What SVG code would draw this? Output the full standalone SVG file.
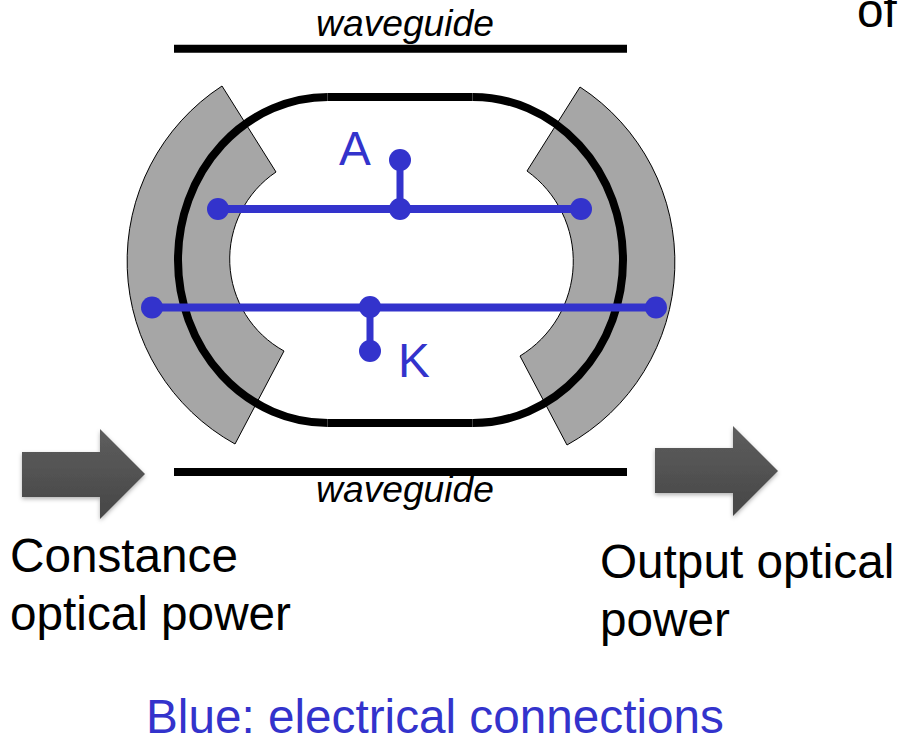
<svg xmlns="http://www.w3.org/2000/svg" width="899" height="739" viewBox="0 0 899 739">
<style>
text{font-family:"Liberation Sans",Arial,sans-serif}
.lbl{font-size:47.7px;fill:#000}
.wg{font-size:37.2px;font-style:italic;fill:#000}
.blue{fill:#3333cc}
.bl{stroke:#3333cc;fill:none}
.seg{fill:#a6a6a6;stroke:#000;stroke-width:1}
.bar{stroke:#000;stroke-width:8;fill:none}
.arrow{fill:url(#ag);filter:url(#sh)}
</style>
<defs>
<linearGradient id="ag" x1="0" y1="0" x2="0" y2="1"><stop offset="0" stop-color="#5e5e5e"/><stop offset="1" stop-color="#464646"/></linearGradient>
<filter id="sh" x="-15%" y="-15%" width="130%" height="130%"><feDropShadow dx="0" dy="2" stdDeviation="2" flood-color="#000" flood-opacity="0.3"/></filter>
</defs>
<rect width="899" height="739" fill="#fff"/>
<text class="lbl" x="857" y="27">of</text>
<g id="electrode-left"><path class="seg" d="M222 86A209 209 0 0 0 235 444L284 351A105 105 0 0 1 276 172Z"/></g>
<g id="electrode-right"><path class="seg" d="M580 87A209 209 0 0 1 567 445L520 356A111 111 0 0 0 527 171Z"/></g>
<g id="ring"><path d="M328 97H473A150 163 0 0 1 623 260A150 163 0 0 1 473 423H328A150 163 0 0 1 178 260A150 163 0 0 1 328 97Z" fill="none" stroke="#000" stroke-width="8"/><path d="M327.500 93V101M472.500 93V101M327.500 419V427M472.500 419V427" stroke="#444" stroke-width="1"/></g>
<g id="waveguide-top"><line class="bar" x1="174" y1="48.800" x2="627" y2="48.800"/><text class="wg" x="405" y="36" text-anchor="middle">waveguide</text></g>
<g id="waveguide-bottom"><line class="bar" x1="174" y1="472" x2="627" y2="472"/><text class="wg" x="405" y="502" text-anchor="middle">waveguide</text></g>
<g id="connectors">
<path class="bl" stroke-width="8" d="M218 209H581M152 307.500H656"/>
<path class="bl" stroke-width="7" d="M400 160V209M370 307V351"/>
<g class="blue"><circle cx="218" cy="209" r="11"/><circle cx="581" cy="209" r="11"/><circle cx="400" cy="209" r="11"/><circle cx="400" cy="160" r="11"/><circle cx="152" cy="307.500" r="11"/><circle cx="656" cy="307.500" r="11"/><circle cx="370" cy="307" r="11"/><circle cx="370" cy="351" r="11"/></g>
</g>
<g id="anode"><text class="lbl blue" x="339" y="165">A</text></g>
<g id="cathode"><text class="lbl blue" x="398" y="377">K</text></g>
<g id="arrow-in"><path class="arrow" d="M22 452H100V429L145 474L100 519V497H22Z"/></g>
<g id="arrow-out"><path class="arrow" d="M655 448H733V426L778 471L733 516V493H655Z"/></g>
<g id="label-in"><text class="lbl" x="10" y="572">Constance</text><text class="lbl" x="10" y="630">optical power</text></g>
<g id="label-out"><text class="lbl" x="600" y="578">Output optical</text><text class="lbl" x="600" y="636">power</text></g>
<text class="lbl blue" x="146" y="733">Blue: electrical connections</text>
</svg>
